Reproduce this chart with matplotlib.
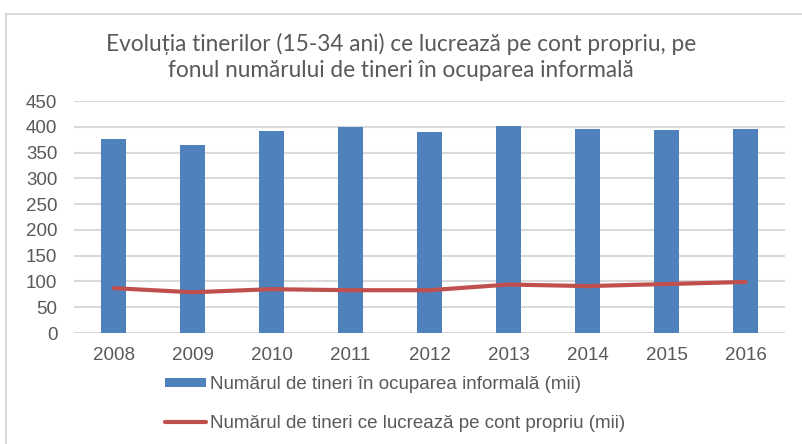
import matplotlib
matplotlib.use("Agg")
import matplotlib.pyplot as plt
import numpy as np
from matplotlib.lines import Line2D

# data
years = ["2008", "2009", "2010", "2011", "2012", "2013", "2014", "2015", "2016"]
informal = [377, 364, 392, 400, 390, 402, 396, 393, 396]
own_account = [87, 79, 85, 83, 83, 94, 91, 95, 99]

bar_label = "Numărul de tineri în ocuparea informală (mii)"
line_label = "Numărul de tineri ce lucrează pe cont propriu (mii)"
title = "Evoluția tinerilor (15-34 ani) ce lucrează pe cont propriu, pe\nfonul numărului de tineri în ocuparea informală"

plt.rcParams['font.family'] = ['Liberation Sans', 'DejaVu Sans']

fig = plt.figure(figsize=(8.02, 4.44), dpi=100)
ax = fig.add_axes([0.0923, 0.25, 0.8867, 0.5225])

x = np.arange(len(years))
bars = ax.bar(x, informal, width=0.325, color="#4f81bd", label=bar_label, zorder=2)
line, = ax.plot(x, own_account, color="#c0504d", linewidth=3, solid_capstyle="round",
                label=line_label, zorder=3)

ax.set_xlim(-0.5, len(years) - 0.5)
ax.set_ylim(0, 450)
ax.set_yticks(np.arange(0, 451, 50))
ax.set_xticks(x)
ax.set_xticklabels(years)
ax.yaxis.grid(True, color="#d9d9d9", linewidth=1.5, zorder=0)
ax.set_axisbelow(True)
for s in ax.spines.values():
    s.set_visible(False)
ax.tick_params(axis="both", length=0, labelsize=13.5, labelcolor="#595959")
ax.tick_params(axis="y", pad=12)
ax.tick_params(axis="x", pad=10)

fig.text(0.5, 0.872, title, ha="center", va="center", fontsize=16.3,
         color="#595959", family=["Lato", "DejaVu Sans"], linespacing=1.25)

fig.legend([bars, line], [bar_label, line_label],
           loc="upper left", bbox_to_anchor=(0.206, 0.153), frameon=False,
           fontsize=13.5, labelcolor="#595959", handlelength=2.2,
           handleheight=0.4, handletextpad=0.2, labelspacing=1.15,
           borderaxespad=0, borderpad=0)

# light frame around the chart area
fig.add_artist(Line2D([6 / 802, 6 / 802], [0, 1 - 14 / 444],
                      transform=fig.transFigure, color="#d9d9d9", linewidth=1.5))
fig.add_artist(Line2D([6 / 802, 1], [1 - 14 / 444, 1 - 14 / 444],
                      transform=fig.transFigure, color="#d9d9d9", linewidth=1.5))

fig.savefig("out.png", dpi=100)
